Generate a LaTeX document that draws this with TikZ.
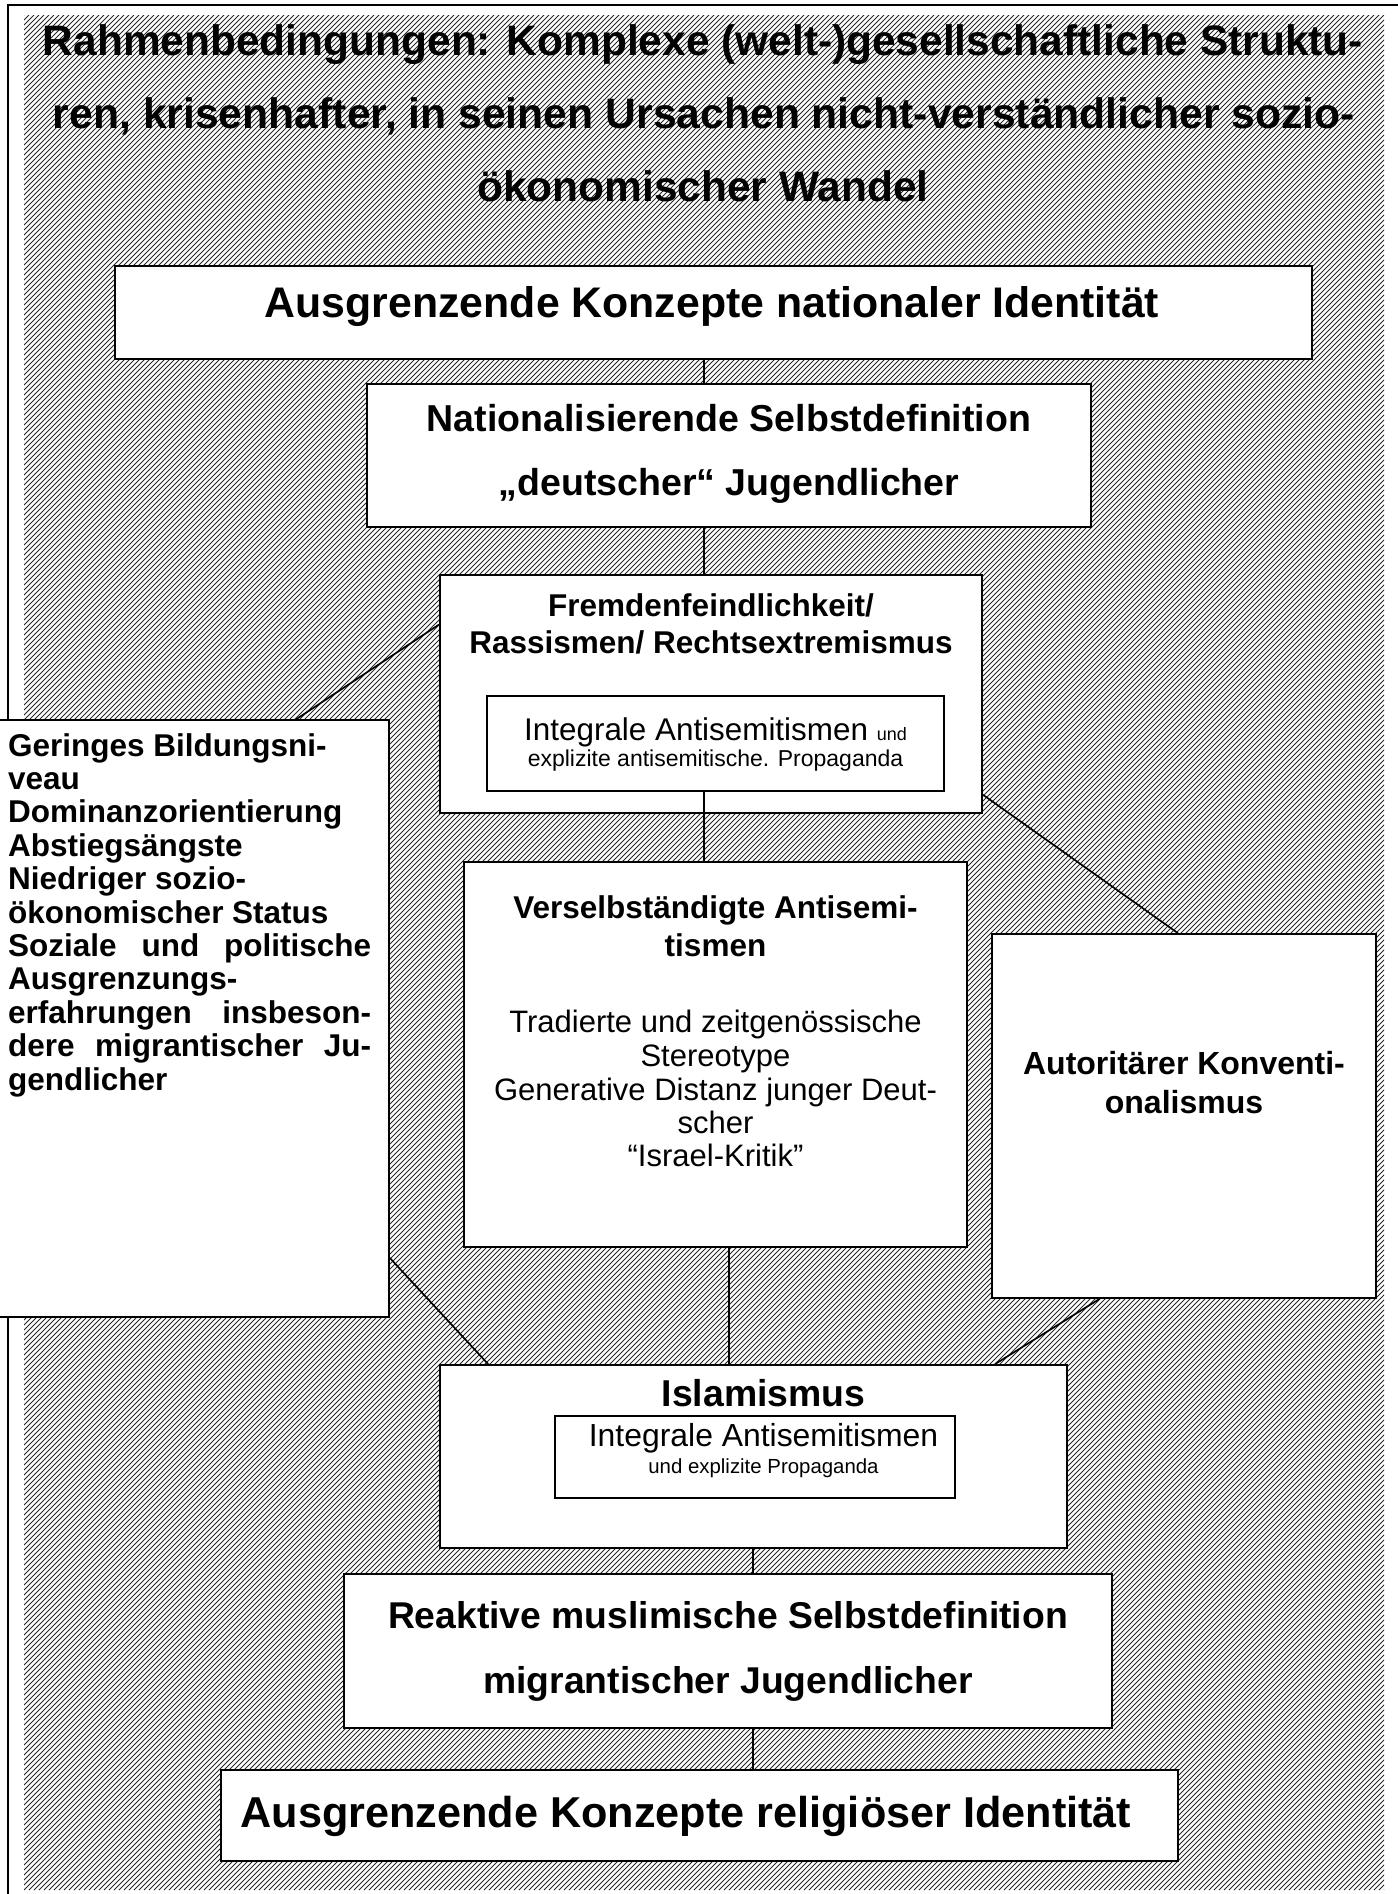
\documentclass[tikz,border=0pt]{standalone}
\usepackage{fontspec}
\setmainfont{Liberation Sans}
\usepackage{graphicx}
\usetikzlibrary{calc}
\newcommand\fsz[1]{\fontsize{#1bp}{#1bp}\selectfont}
\newlength\tlA
\begin{document}
\settowidth\tlA{\bfseries\fsz{42.6}Rahmenbedingungen: Komplexe (welt-)gesellschaftliche Struktu-}%
\pgfmathsetmacro\tfac{1324.95/\tlA}%
\begin{tikzpicture}[x=1bp,y=-1bp,
  box/.style={draw=black,line width=1.8bp,fill=white,rectangle,inner sep=0pt},
  conn/.style={draw=black,line width=1.7bp},
  hatchline/.style={draw=black!85,line width=0.85bp},
  txt/.style={inner sep=0pt,anchor=base,text=black},
  btxt/.style={txt,font=\bfseries}]
\useasboundingbox (0,0) rectangle (1398,1894);
% hatched background
\begin{scope}
\clip (24,15) rectangle (1384,1890);
\foreach \i in {0,...,648} {
  \draw[hatchline] ({-1851+\i*5},1890) -- ++(1875,-1875);
}
\end{scope}
\draw[line width=1.8bp] (8,1894) -- (8,5) -- (1398,5);
% title
\node[btxt] (t1) at (703,55) {\resizebox{1320bp}{\height}{\fsz{42.6}Rahmenbedingungen: Komplexe (welt-)gesellschaftliche Struktu-}};
\node[btxt] (t2) at (704,128) {\resizebox{1302bp}{\height}{\fsz{42.6}ren, krisenhafter, in seinen Ursachen nicht-verständlicher sozio-}};
\node[btxt] (t3) at (703,201) {\scalebox{\tfac}[1]{\fsz{42.6}ökonomischer Wandel}};
% boxes
\node[box,minimum width=1197bp,minimum height=93bp] (A) at (713.5,312.5) {};
\node[box,minimum width=724bp,minimum height=143bp] (B) at (729,455.5) {};
\node[box,minimum width=542bp,minimum height=238bp] (C) at (711,694) {};
\node[box,minimum width=457bp,minimum height=95bp] (Cin) at (715.5,743.5) {};
\node[box,minimum width=503bp,minimum height=385bp] (D) at (715.5,1054.5) {};
\node[box,minimum width=391bp,minimum height=597bp] (E) at (193.5,1018.5) {};
\node[box,minimum width=384bp,minimum height=364bp] (F) at (1184,1116) {};
\node[box,minimum width=627bp,minimum height=183bp] (G) at (753.5,1456.5) {};
\node[box,minimum width=400bp,minimum height=82bp] (Gin) at (755,1457) {};
\node[box,minimum width=768bp,minimum height=154bp] (H) at (728,1651) {};
\node[box,minimum width=957bp,minimum height=91bp] (I) at (699.5,1815.5) {};
% connectors
\coordinate (xa) at (704,0);
\coordinate (xb) at (729,0);
\coordinate (xc) at (753,0);
\draw[conn] (A.south -| xa) -- (B.north -| xa);
\draw[conn] (B.south -| xa) -- (C.north -| xa);
\draw[conn] (Cin.south -| xa) -- (D.north -| xa);
\draw[conn] (D.south -| xb) -- (G.north -| xb);
\draw[conn] (G.south -| xc) -- (H.north -| xc);
\draw[conn] (H.south -| xc) -- (I.north -| xc);
\draw[conn] ($(C.north west)!0.21!(C.south west)$) -- ($(E.north west)!0.762!(E.north east)$);
\draw[conn] ($(E.north east)!0.9!(E.south east)$) -- ($(G.north west)!0.078!(G.north east)$);
\draw[conn] ($(C.north east)!0.92!(C.south east)$) -- ($(F.north west)!0.484!(F.north east)$);
\draw[conn] ($(F.south west)!0.281!(F.south east)$) -- ($(G.north west)!0.884!(G.north east)$);
% texts
\node[btxt] (a1) at (712,317) {\fsz{42.8}Ausgrenzende Konzepte nationaler Identität};
\node[btxt] (b1) at (729,431) {\fsz{37.5}Nationalisierende Selbstdefinition};
\node[btxt] (b2) at (729,495) {\fsz{37.5}„deutscher“ Jugendlicher};
\node[btxt] (c1) at (711,616) {\fsz{31.5}Fremdenfeindlichkeit/};
\node[btxt] (c2) at (711,653) {\fsz{31.5}Rassismen/ Rechtsextremismus};
\node[txt] (ci1) at (715.5,740) {\fsz{31.4}Integrale Antisemitismen {\fsz{18}und}};
\node[txt] (ci2) at (715.5,766) {\fsz{23}explizite antisemitische. Propaganda};
\node[btxt] (d1) at (715.5,918) {\fsz{31.5}Verselbständigte Antisemi-};
\node[btxt] (d2) at (715.5,956) {\fsz{31.5}tismen};
\node[txt] (d3) at (715.5,1032) {\fsz{31}Tradierte und zeitgenössische};
\node[txt] (d4) at (715.5,1066) {\fsz{31}Stereotype};
\node[txt] (d5) at (715.5,1100) {\fsz{31}Generative Distanz junger Deut-};
\node[txt] (d6) at (715.5,1133) {\fsz{31}scher};
\node[txt] (d7) at (715.5,1166) {\fsz{31}“Israel-Kritik”};
\node[btxt,anchor=base west] (e1) at (8,756) {\fsz{31.5}Geringes Bildungsni-};
\node[btxt,anchor=base west] (e2) at (8,789.4) {\fsz{31.5}veau};
\node[btxt,anchor=base west] (e3) at (8,822.8) {\fsz{31.5}Dominanzorientierung};
\node[btxt,anchor=base west] (e4) at (8,856.2) {\fsz{31.5}Abstiegsängste};
\node[btxt,anchor=base west] (e5) at (8,889.6) {\fsz{31.5}Niedriger sozio-};
\node[btxt,anchor=base west] (e6) at (8,923) {\fsz{31.5}ökonomischer Status};
\node[btxt,anchor=base west] (e7) at (8,956.4) {\fsz{31.5}\makebox[363bp][s]{Soziale und politische}};
\node[btxt,anchor=base west] (e8) at (8,989.8) {\fsz{31.5}Ausgrenzungs-};
\node[btxt,anchor=base west] (e9) at (8,1023.2) {\fsz{31.5}\makebox[363bp][s]{erfahrungen insbeson-}};
\node[btxt,anchor=base west] (e10) at (8,1056.6) {\fsz{31.5}\makebox[363bp][s]{dere migrantischer Ju-}};
\node[btxt,anchor=base west] (e11) at (8,1090) {\fsz{31.5}gendlicher};
\node[btxt] (f1) at (1184,1074) {\fsz{32}Autoritärer Konventi-};
\node[btxt] (f2) at (1184,1113) {\fsz{32}onalismus};
\node[btxt] (g1) at (763.5,1406) {\fsz{37.4}Islamismus};
\node[txt] (gi1) at (763.5,1446) {\fsz{31.9}Integrale Antisemitismen};
\node[txt] (gi2) at (763.5,1473) {\fsz{20.4}und explizite Propaganda};
\node[btxt] (h1) at (728,1628) {\fsz{37.3}Reaktive muslimische Selbstdefinition};
\node[btxt] (h2) at (728,1693) {\fsz{37.3}migrantischer Jugendlicher};
\node[btxt] (i1) at (686,1827) {\fsz{43.2}Ausgrenzende Konzepte religiöser Identität};
\end{tikzpicture}
\end{document}
